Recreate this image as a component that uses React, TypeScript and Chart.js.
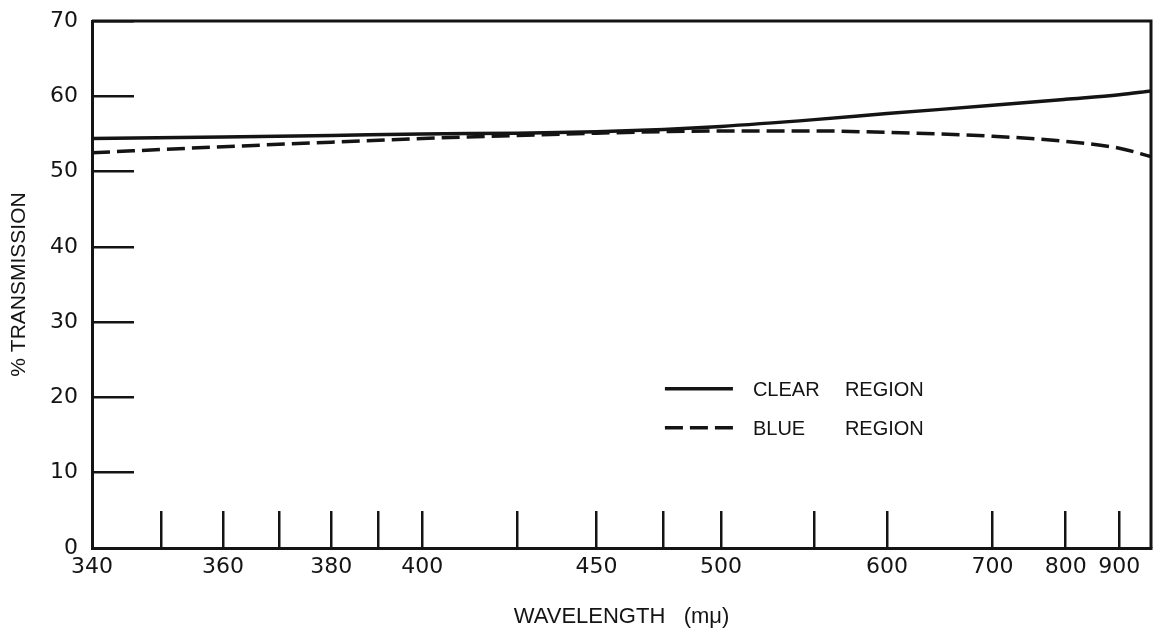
import React, { useEffect, useRef } from "react";
import { Chart, registerables, Scale } from "chart.js";

Chart.register(...registerables);

// ---- data ----
const wavelengths = [340, 360, 380, 400, 425, 450, 475, 500, 550, 600, 700, 800, 900, 975];
const clearRegion = [54.4, 54.6, 54.8, 55.0, 55.1, 55.3, 55.6, 56.0, 56.9, 57.7, 58.8, 59.6, 60.2, 60.7];
const blueRegion = [52.5, 53.3, 53.9, 54.4, 54.8, 55.1, 55.3, 55.4, 55.4, 55.2, 54.7, 54.0, 53.1, 52.0];

const xTickValues = [340, 350, 360, 370, 380, 390, 400, 425, 450, 475, 500, 550, 600, 700, 800, 900];
const xTickLabels = [340, 360, 380, 400, 450, 500, 600, 700, 800, 900];
const X_MIN = 340;
const X_MAX = 975;
const yTicks = [0, 10, 20, 30, 40, 50, 60, 70];

const seriesLabels = ["CLEAR REGION", "BLUE REGION"];

// Hartmann dispersion scale (prism spectrum): position ~ 1 / (lambda - lambda0)
const LAMBDA0 = 150;
const tf = (v: number) => 1000 / (v - LAMBDA0);

class HartmannScale extends Scale {
  static id = "hartmann";
  static defaults = {};
  declare _t0: number;
  declare _t1: number;

  determineDataLimits() {
    const { min, max } = (this as any).getMinMax(true);
    const o: any = this.options;
    (this as any).min = Number.isFinite(o.min) ? o.min : min;
    (this as any).max = Number.isFinite(o.max) ? o.max : max;
  }
  buildTicks() {
    return xTickValues.map((v) => ({ value: v }));
  }
  configure() {
    super.configure();
    this._t0 = tf((this as any).min);
    this._t1 = tf((this as any).max);
  }
  getLabelForValue(v: number) {
    return String(v);
  }
  getPixelForValue(v: number) {
    return this.getPixelForDecimal((tf(v) - this._t0) / (this._t1 - this._t0));
  }
  getValueForPixel(p: number) {
    const d = this.getDecimalForPixel(p);
    const t = this._t0 + d * (this._t1 - this._t0);
    return LAMBDA0 + 1000 / t;
  }
}
Chart.register(HartmannScale as any);

const INK = "#141414";

const framePlugin = {
  id: "frame",
  afterDraw(chart: any) {
    const { ctx, chartArea: a } = chart;
    ctx.save();
    ctx.strokeStyle = INK;
    ctx.lineWidth = 3;
    ctx.beginPath();
    ctx.moveTo(a.left, a.top);
    ctx.lineTo(a.right, a.top);
    ctx.lineTo(a.right, a.bottom);
    ctx.stroke();
    ctx.restore();
  },
};

const innerLegend = {
  id: "innerLegend",
  afterDatasetsDraw(chart: any) {
    const { ctx, chartArea: a } = chart;
    const x0 = a.left + (a.right - a.left) * 0.541;
    const y0 = a.top + (a.bottom - a.top) * 0.698;
    chart.data.datasets.forEach((ds: any, i: number) => {
      const y = y0 + i * 39;
      ctx.save();
      ctx.strokeStyle = ds.borderColor;
      ctx.lineWidth = ds.borderWidth;
      ctx.setLineDash(ds.borderDash || []);
      ctx.beginPath();
      ctx.moveTo(x0, y);
      ctx.lineTo(x0 + 68, y);
      ctx.stroke();
      ctx.setLineDash([]);
      ctx.fillStyle = INK;
      ctx.font = '20px "Liberation Sans"';
      ctx.textBaseline = "middle";
      ctx.textAlign = "left";
      const parts = String(ds.label).split(" ");
      ctx.fillText(parts[0], x0 + 88, y + 2);
      ctx.fillText(parts.slice(1).join(" "), x0 + 180, y + 2);
      ctx.restore();
    });
  },
};

export default function App() {
  const ref = useRef<HTMLCanvasElement | null>(null);

  useEffect(() => {
    if (!ref.current) return;
    const chart = new Chart(ref.current, {
      type: "line",
      data: {
        datasets: [
          {
            label: seriesLabels[0],
            data: wavelengths.map((x, i) => ({ x, y: clearRegion[i] })),
            borderColor: INK,
            borderWidth: 3.5,
            pointRadius: 0,
            fill: false,
            cubicInterpolationMode: "monotone",
          },
          {
            label: seriesLabels[1],
            data: wavelengths.map((x, i) => ({ x, y: blueRegion[i] })),
            borderColor: INK,
            borderWidth: 3.5,
            borderDash: [18, 7],
            pointRadius: 0,
            fill: false,
            cubicInterpolationMode: "monotone",
          },
        ],
      },
      options: {
        responsive: false,
        animation: false,
        events: [],
        layout: { padding: { left: 0, top: 21, right: 6, bottom: 0 } },
        plugins: { legend: { display: false }, tooltip: { enabled: false } },
        scales: {
          x: {
            type: "hartmann" as any,
            min: X_MIN,
            max: X_MAX,
            grid: {
              display: true,
              drawOnChartArea: false,
              drawTicks: true,
              tickLength: -37,
              lineWidth: 2.5,
              color: INK,
            },
            border: { display: true, width: 3, color: INK },
            ticks: {
              autoSkip: false,
              maxRotation: 0,
              minRotation: 0,
              padding: 43,
              color: INK,
              font: { family: '"DejaVu Sans"', size: 22 },
              callback: (v: any) => (xTickLabels.includes(Number(v)) ? String(v) : ""),
            },
            title: {
              display: true,
              text: "WAVELENGTH   (mμ)",
              color: INK,
              font: { family: '"Liberation Sans"', size: 22 },
              padding: { top: 0, bottom: 2 },
            },
            afterFit: (s: any) => {
              s.height = 84;
              s.paddingLeft = 0;
              s.paddingRight = 0;
              s.paddingTop = 0;
              s.paddingBottom = 0;
            },
          } as any,
          y: {
            type: "linear",
            min: 0,
            max: 70,
            afterBuildTicks: (s: any) => {
              s.ticks = yTicks.map((v) => ({ value: v }));
            },
            grid: {
              display: true,
              drawOnChartArea: false,
              drawTicks: true,
              tickLength: -42,
              lineWidth: 2.5,
              color: INK,
            },
            border: { display: true, width: 3, color: INK },
            ticks: {
              padding: 56,
              color: INK,
              font: { family: '"DejaVu Sans"', size: 22 },
            },
            title: {
              display: true,
              text: "% TRANSMISSION",
              color: INK,
              font: { family: '"Liberation Sans"', size: 21 },
              padding: { top: 7, bottom: 0 },
            },
            afterFit: (s: any) => {
              s.width = 92;
              s.paddingLeft = 0;
              s.paddingRight = 0;
              s.paddingTop = 0;
              s.paddingBottom = 0;
            },
          } as any,
        },
      },
      plugins: [framePlugin, innerLegend],
    });
    return () => chart.destroy();
  }, []);

  return (
    <div style={{ position: "fixed", left: 0, top: 0, width: 1157, height: 632, background: "#fff" }}>
      <canvas ref={ref} width={1157} height={632} style={{ display: "block" }} />
    </div>
  );
}
